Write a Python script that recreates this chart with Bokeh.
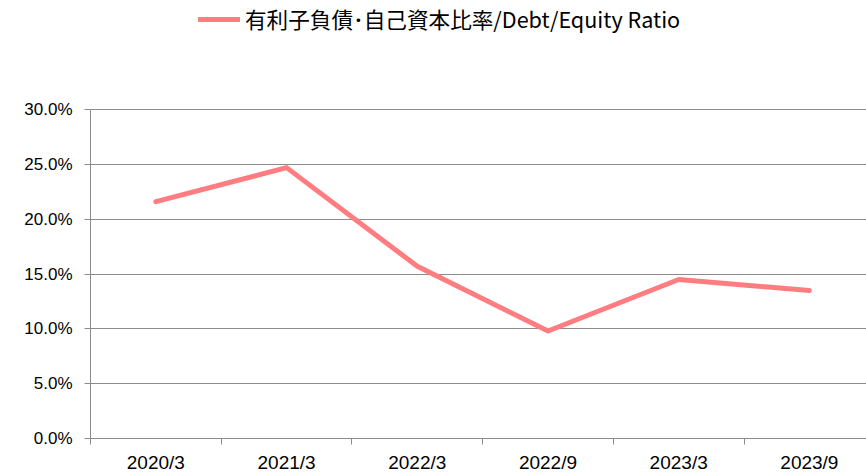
from bokeh.plotting import figure
from bokeh.models import Range1d, FixedTicker, NumeralTickFormatter, Legend, LegendItem, ColumnDataSource
from bokeh.embed import file_html
from bokeh.resources import INLINE

categories = ["2020/3", "2021/3", "2022/3", "2022/9", "2023/3", "2023/9"]
ratio = [0.216, 0.247, 0.157, 0.098, 0.145, 0.135]
series_name = "有利子負債･自己資本比率/Debt/Equity Ratio"
y_ticks = [0.0, 0.05, 0.10, 0.15, 0.20, 0.25, 0.30]

FONT = "Noto Sans CJK JP"
TICKFONT = "Liberation Sans"
GRID = "#8c8c8c"
LINE = "#FF7C80"

centers = [i + 0.5 for i in range(len(categories))]
boundaries = [float(i) for i in range(len(categories) + 1)]

# frame spans the whole height above the x axis; the visible axis stops at 30%
FRAME_H = 438
Y_TOP = y_ticks[-1] * FRAME_H / 329.0

p = figure(width=866, height=475, output_backend="svg", toolbar_location=None,
           x_range=Range1d(0, 5.937), y_range=Range1d(0, Y_TOP),
           min_border_left=90, min_border_right=0, min_border_top=0, min_border_bottom=37)
p.outline_line_color = None
p.background_fill_color = "white"
p.border_fill_color = "white"

src = ColumnDataSource(dict(x=centers, y=ratio))
r = p.line("x", "y", source=src, line_color=LINE, line_width=5, line_cap="round", line_join="round")

p.xaxis.ticker = FixedTicker(ticks=centers, minor_ticks=boundaries)
p.xaxis.major_label_overrides = {c: lab for c, lab in zip(centers, categories)}
p.xaxis.major_tick_out = 0
p.xaxis.major_tick_in = 0
p.xaxis.minor_tick_out = 6
p.xaxis.minor_tick_in = 0
p.xaxis.minor_tick_line_color = GRID
p.xaxis.axis_line_color = GRID
p.xaxis.major_label_text_font = TICKFONT
p.xaxis.major_label_text_font_size = "19px"
p.xaxis.major_label_text_color = "black"
p.xaxis.major_label_standoff = 7

p.yaxis.ticker = FixedTicker(ticks=y_ticks)
p.yaxis.bounds = (y_ticks[0], y_ticks[-1])
p.yaxis.formatter = NumeralTickFormatter(format="0.0%")
p.yaxis.major_tick_out = 6
p.yaxis.major_tick_in = 0
p.yaxis.minor_tick_line_color = None
p.yaxis.major_tick_line_color = GRID
p.yaxis.axis_line_color = GRID
p.yaxis.major_label_text_font = TICKFONT
p.yaxis.major_label_text_font_size = "17px"
p.yaxis.major_label_text_color = "black"
p.yaxis.major_label_standoff = 12

p.xgrid.grid_line_color = None
p.ygrid.ticker = FixedTicker(ticks=y_ticks)
p.ygrid.grid_line_color = GRID
p.ygrid.grid_line_width = 1

legend = Legend(items=[LegendItem(label=series_name, renderers=[r])],
                location=(108, 404), orientation="horizontal",
                border_line_color=None, background_fill_alpha=0,
                padding=0, margin=0, spacing=0,
                glyph_width=42, glyph_height=22, label_standoff=5,
                label_text_font=FONT, label_text_font_size="21.6px", label_text_color="black")
p.add_layout(legend, "center")

open("out.html", "w").write(file_html(p, INLINE))
